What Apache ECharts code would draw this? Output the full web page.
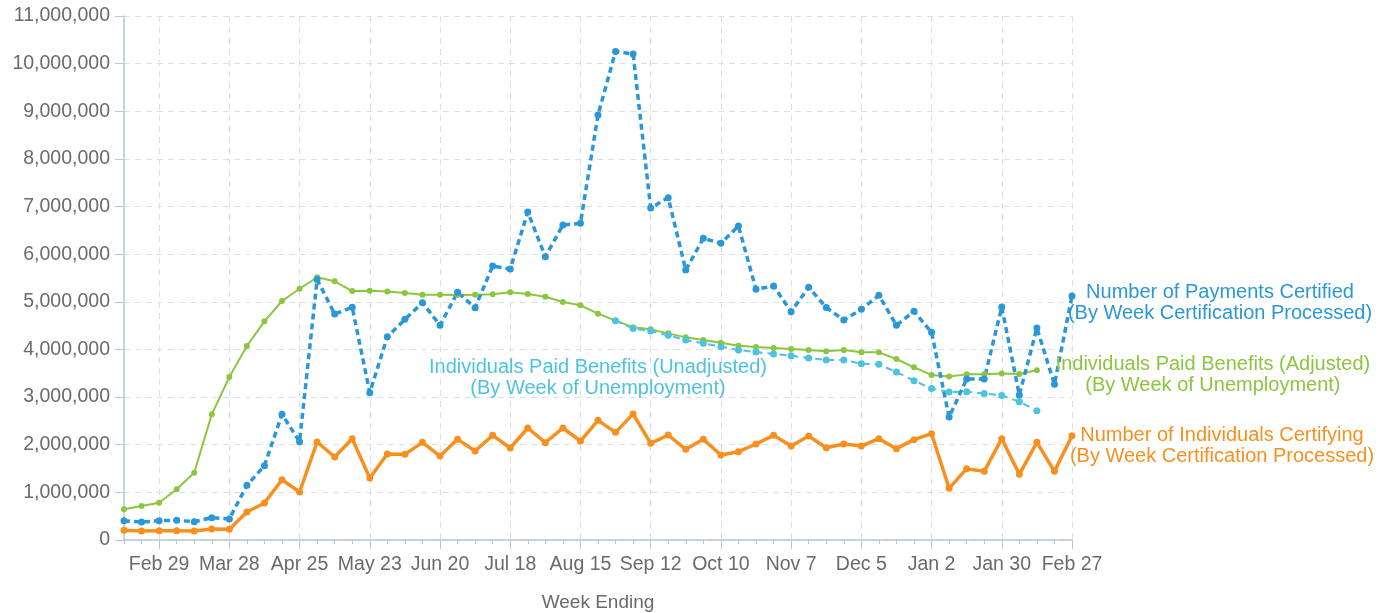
<!DOCTYPE html>
<html>
	<head>
		<meta charset="utf-8">
		<title>Weekly claims</title>
		<script src="https://cdn.jsdelivr.net/npm/echarts@6/dist/echarts.min.js" type="text/javascript" charset="utf-8"></script>
		<style type="text/css">
			html, body {
				margin: 0;
				padding: 0;
				background: #ffffff;
			}
			#main {
				width: 1390px;
				height: 613px;
			}
		</style>
	</head>
	<body>
		<div id="main"></div>
	</body>
</html>

<script type="text/javascript">
	// week ending dates (x categories)
	var weeks = ['Feb 15', 'Feb 22', 'Feb 29', 'Mar 7', 'Mar 14', 'Mar 21', 'Mar 28', 'Apr 4', 'Apr 11', 'Apr 18',
		'Apr 25', 'May 2', 'May 9', 'May 16', 'May 23', 'May 30', 'Jun 6', 'Jun 13', 'Jun 20', 'Jun 27',
		'Jul 4', 'Jul 11', 'Jul 18', 'Jul 25', 'Aug 1', 'Aug 8', 'Aug 15', 'Aug 22', 'Aug 29', 'Sep 5',
		'Sep 12', 'Sep 19', 'Sep 26', 'Oct 3', 'Oct 10', 'Oct 17', 'Oct 24', 'Oct 31', 'Nov 7', 'Nov 14',
		'Nov 21', 'Nov 28', 'Dec 5', 'Dec 12', 'Dec 19', 'Dec 26', 'Jan 2', 'Jan 9', 'Jan 16', 'Jan 23',
		'Jan 30', 'Feb 6', 'Feb 13', 'Feb 20', 'Feb 27'];

	// Number of Payments Certified
	var payments = [405000, 378000, 405000, 413000, 385000, 468000, 441000, 1148000, 1560000, 2638000,
		2064000, 5470000, 4744000, 4884000, 3093000, 4268000, 4632000, 4982000, 4506000, 5199000,
		4877000, 5751000, 5688000, 6885000, 5947000, 6612000, 6647000, 8921000, 10257000, 10201000,
		6969000, 7186000, 5667000, 6332000, 6227000, 6591000, 5262000, 5332000, 4793000, 5305000,
		4880000, 4618000, 4842000, 5136000, 4506000, 4800000, 4359000, 2580000, 3380000, 3380000,
		4890000, 3044000, 4450000, 3268000, 5122000];

	// Individuals Paid Benefits (Adjusted)
	var paidAdjusted = [644000, 714000, 783000, 1064000, 1413000, 2638000, 3421000, 4072000, 4590000, 5017000,
		5275000, 5514000, 5430000, 5227000, 5233000, 5219000, 5185000, 5149000, 5149000, 5143000,
		5149000, 5157000, 5199000, 5164000, 5108000, 4996000, 4926000, 4751000, 4604000, 4464000,
		4422000, 4338000, 4254000, 4198000, 4142000, 4079000, 4051000, 4030000, 4009000, 3988000,
		3961000, 3988000, 3939000, 3939000, 3800000, 3625000, 3465000, 3430000, 3477000, 3477000,
		3495000, 3485000, 3565000, null, null];

	// Individuals Paid Benefits (Unadjusted)
	var paidUnadjusted = [null, null, null, null, null, null, null, null, null, null,
		null, null, null, null, null, null, null, null, null, null,
		null, null, null, null, null, null, null, null, 4604000, 4440000,
		4387000, 4296000, 4198000, 4128000, 4058000, 3988000, 3946000, 3904000, 3869000, 3820000,
		3778000, 3778000, 3701000, 3687000, 3527000, 3344000, 3180000, 3107000, 3112000, 3075000,
		3035000, 2904000, 2713000, null, null];

	// Number of Individuals Certifying
	var certifying = [203000, 189000, 196000, 196000, 189000, 231000, 224000, 588000, 777000, 1266000,
		1008000, 2057000, 1742000, 2127000, 1301000, 1805000, 1798000, 2050000, 1763000, 2113000,
		1868000, 2197000, 1931000, 2351000, 2043000, 2351000, 2078000, 2512000, 2260000, 2645000,
		2029000, 2204000, 1904000, 2113000, 1784000, 1854000, 2015000, 2197000, 1973000, 2183000,
		1938000, 2015000, 1973000, 2127000, 1917000, 2106000, 2232000, 1085000, 1497000, 1441000,
		2127000, 1379000, 2050000, 1441000, 2190000];

	// 标签文字
	var labelPayments = 'Number of Payments Certified\n(By Week Certification Processed)';
	var labelAdjusted = 'Individuals Paid Benefits (Adjusted)\n(By Week of Unemployment)';
	var labelUnadjusted = 'Individuals Paid Benefits (Unadjusted)\n(By Week of Unemployment)';
	var labelCertifying = 'Number of Individuals Certifying\n(By Week Certification Processed)';

	var textFont = "'Liberation Sans', Arial, sans-serif";
	var grey = '#6a6a6a';
	var axisColor = '#b7c6d9';
	var gridColor = '#d8e0ea';

	// show a label every 4 weeks, starting at Feb 29
	function everyFour(index) {
		return index % 4 === 2;
	}

	var myChart = echarts.init(document.getElementById('main'));

	var option = {
		animation: false,
		textStyle: {
			fontFamily: textFont
		},
		grid: {
			left: 124,
			right: 318,
			top: 16,
			bottom: 73,
			// keep the plot box where it is set, do not shrink it for labels
			outerBoundsMode: 'none'
		},
		xAxis: [{
			type: 'category',
			data: weeks,
			boundaryGap: false,
			name: 'Week Ending',
			nameLocation: 'middle',
			nameGap: 53,
			nameTextStyle: {
				color: grey,
				fontSize: 19,
				fontFamily: textFont
			},
			axisLine: {
				lineStyle: {
					color: axisColor,
					width: 1.5
				}
			},
			axisTick: {
				interval: 0,
				length: 4,
				lineStyle: {
					color: axisColor
				}
			},
			axisLabel: {
				interval: everyFour,
				color: grey,
				fontSize: 19.5,
				fontFamily: textFont,
				margin: 15
			},
			splitLine: {
				show: true,
				interval: everyFour,
				lineStyle: {
					color: gridColor,
					type: [6, 5]
				}
			}
		}, {
			// longer ticks under the labels
			type: 'category',
			data: weeks,
			boundaryGap: false,
			position: 'bottom',
			axisLine: {
				show: false
			},
			axisTick: {
				interval: everyFour,
				length: 9,
				lineStyle: {
					color: axisColor
				}
			},
			axisLabel: {
				show: false
			},
			splitLine: {
				show: false
			}
		}],
		yAxis: {
			type: 'value',
			min: 0,
			max: 11000000,
			interval: 1000000,
			axisLine: {
				show: true,
				lineStyle: {
					color: axisColor,
					width: 1.5
				}
			},
			axisTick: {
				show: true,
				length: 9,
				lineStyle: {
					color: axisColor
				}
			},
			axisLabel: {
				color: grey,
				fontSize: 19.5,
				fontFamily: textFont,
				margin: 14,
				formatter: function(v) {
					return v.toLocaleString('en-US');
				}
			},
			splitLine: {
				lineStyle: {
					color: gridColor,
					type: [6, 5]
				}
			}
		},
		series: [{
			name: 'Individuals Paid Benefits (Adjusted)',
			type: 'line',
			data: paidAdjusted,
			color: '#8cc540',
			symbol: 'circle',
			symbolSize: 6,
			lineStyle: {
				width: 2
			},
			endLabel: {
				show: true,
				formatter: labelAdjusted,
				color: '#8cc540',
				fontSize: 20,
				lineHeight: 21,
				fontFamily: textFont,
				align: 'center',
				distance: 0,
				offset: [176, 5]
			}
		}, {
			name: 'Individuals Paid Benefits (Unadjusted)',
			type: 'line',
			data: paidUnadjusted,
			color: '#4ec3de',
			symbol: 'circle',
			symbolSize: 7,
			lineStyle: {
				width: 2,
				type: [7, 5]
			},
			markPoint: {
				symbol: 'circle',
				symbolSize: 0,
				data: [{
					coord: ['Aug 22', 3411000],
					label: {
						show: true,
						position: 'inside',
						formatter: labelUnadjusted,
						color: '#4ec3de',
						fontSize: 20,
						lineHeight: 21,
						fontFamily: textFont,
						align: 'center'
					}
				}]
			}
		}, {
			name: 'Number of Individuals Certifying',
			type: 'line',
			data: certifying,
			color: '#f7901e',
			symbol: 'circle',
			symbolSize: 7,
			lineStyle: {
				width: 3.5
			},
			endLabel: {
				show: true,
				formatter: labelCertifying,
				color: '#f7901e',
				fontSize: 20,
				lineHeight: 21,
				fontFamily: textFont,
				align: 'center',
				distance: 0,
				offset: [150, 10]
			}
		}, {
			name: 'Number of Payments Certified',
			type: 'line',
			data: payments,
			color: '#2a98d6',
			symbol: 'circle',
			symbolSize: 7,
			lineStyle: {
				width: 3.5,
				type: [6, 4]
			},
			endLabel: {
				show: true,
				formatter: labelPayments,
				color: '#2a98d6',
				fontSize: 20,
				lineHeight: 21,
				fontFamily: textFont,
				align: 'center',
				distance: 0,
				offset: [148, 7]
			}
		}]
	};

	myChart.setOption(option);
</script>
